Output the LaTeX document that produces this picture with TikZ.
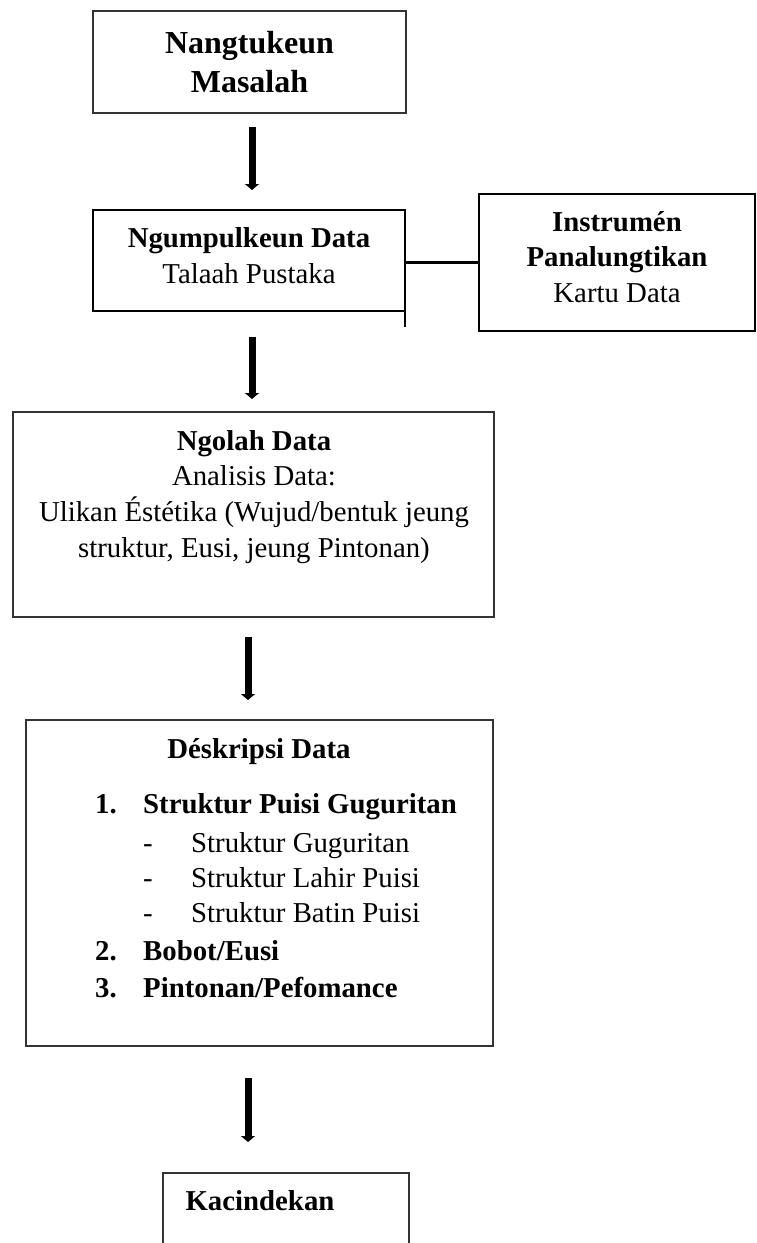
\documentclass[tikz,border=0pt]{standalone}
\usepackage{fontspec}
\setmainfont{Liberation Serif}
\usetikzlibrary{arrows.meta}
\newcommand{\bodysize}{\fontsize{28.8}{36}\selectfont}
\begin{document}
\begin{tikzpicture}[x=1pt,y=-1pt,
  thinbox/.style={draw=black!80, line width=1.3pt, rectangle, inner sep=0pt, outer sep=0pt, anchor=north west},
  thickbox/.style={draw=black, line width=2.2pt, rectangle, inner sep=0pt, outer sep=0pt, anchor=north west},
  flowarrow/.style={line width=7pt, -{Triangle[width=14pt,length=6pt]}},
  boxtext/.style={anchor=base, inner sep=0pt, font=\bodysize}]
\useasboundingbox (0,0) rectangle (756,1243);
\clip (0,0) rectangle (756,1243);
% boxes
\node[thinbox, minimum width=313pt, minimum height=102pt] (masalah) at (93,11) {};
\node[thickbox, minimum width=312pt, minimum height=101pt] (ngumpul) at (93,210) {};
\node[thickbox, minimum width=276pt, minimum height=137pt] (instrumen) at (479,194) {};
\node[thinbox, minimum width=481pt, minimum height=205pt] (ngolah) at (13,412) {};
\node[thinbox, minimum width=467pt, minimum height=326pt] (deskripsi) at (26,720) {};
\node[thinbox, minimum width=246pt, minimum height=130pt] (kacindekan) at (163,1173) {};
% texts
\node[boxtext, font=\fontsize{32}{39}\selectfont\bfseries] (masalahtxt) at (249.5,53)
  {\begin{tabular}[t]{@{}c@{}}Nangtukeun\\Masalah\end{tabular}};
\node[boxtext] (ngumpultxt) at (249,247)
  {\begin{tabular}[t]{@{}c@{}}\textbf{Ngumpulkeun Data}\\Talaah Pustaka\end{tabular}};
\node[boxtext, font=\fontsize{28.8}{35.5}\selectfont] (instrumentxt) at (617,231)
  {\begin{tabular}[t]{@{}c@{}}\textbf{Instrumén}\\\textbf{Panalungtikan}\\Kartu Data\end{tabular}};
\node[boxtext, font=\fontsize{28.8}{35.7}\selectfont] (ngolahtxt) at (254,450)
  {\begin{tabular}[t]{@{}c@{}}\textbf{Ngolah Data}\\Analisis Data:\\Ulikan Éstétika (Wujud/bentuk jeung\\struktur, Eusi, jeung Pintonan)\end{tabular}};
\node[boxtext, font=\bodysize\bfseries] (deskripsititle) at (259,758) {Déskripsi Data};
\node[boxtext, anchor=base west, font=\fontsize{28.8}{35}\selectfont] (deskripsilist) at (95,813)
  {\begin{tabular}[t]{@{}p{48pt}@{}p{48pt}@{}l@{}}
  \textbf{1.} & \multicolumn{2}{@{}l@{}}{\textbf{Struktur Puisi Guguritan}}\\[4pt]
  & - & Struktur Guguritan\\
  & - & Struktur Lahir Puisi\\
  & - & Struktur Batin Puisi\\[3pt]
  \textbf{2.} & \multicolumn{2}{@{}l@{}}{\textbf{Bobot/Eusi}}\\[2pt]
  \textbf{3.} & \multicolumn{2}{@{}l@{}}{\textbf{Pintonan/Pefomance}}
  \end{tabular}};
\node[boxtext, font=\bodysize\bfseries] (kacindekantxt) at (260,1210) {Kacindekan};
% connectors
\coordinate (ngumpultail) at (405,327);
\draw[draw=black, line width=2.2pt] (ngumpul.south east) -- (ngumpultail);
\draw[draw=black, line width=2.2pt] (instrumen.west) -- (instrumen.west -| ngumpul.east);
\draw[flowarrow, shorten <=14pt, shorten >=20pt] ([xshift=2.5pt]masalah.south) -- ([xshift=2.5pt]masalah.south |- ngumpul.north);
\draw[flowarrow, shorten <=26pt, shorten >=13pt] ([xshift=3pt]ngumpul.south) -- ([xshift=3pt]ngumpul.south |- ngolah.north);
\draw[flowarrow, shorten <=20pt, shorten >=20pt] ([xshift=-5.5pt]ngolah.south) -- ([xshift=-5.5pt]ngolah.south |- deskripsi.north);
\draw[flowarrow, shorten <=32pt, shorten >=31pt] ([xshift=-11.5pt]deskripsi.south) -- ([xshift=-11.5pt]deskripsi.south |- kacindekan.north);
\end{tikzpicture}
\end{document}
